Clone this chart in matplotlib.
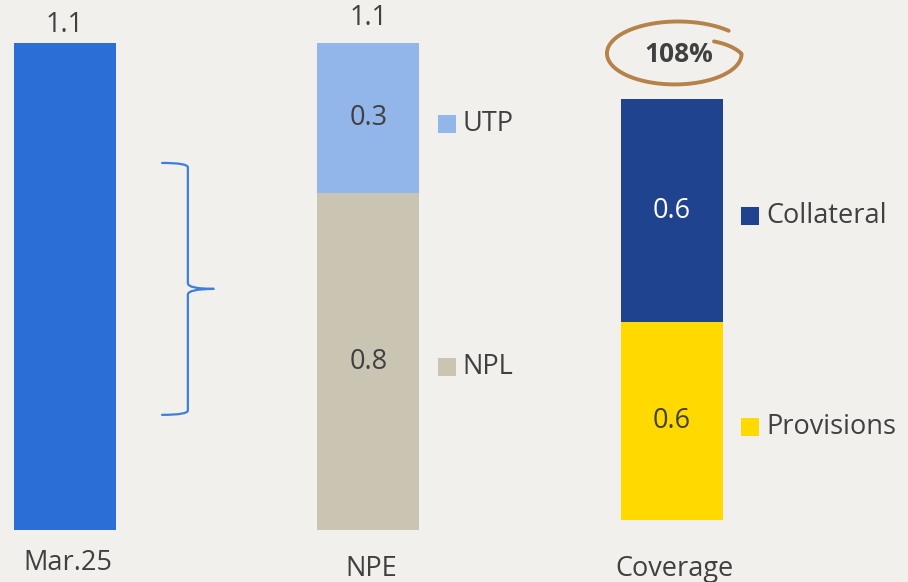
#!/usr/bin/env python3
"""NPE stock vs. coverage: Mar.25 exposure, NPE split and coverage split."""

import numpy as np
import matplotlib
matplotlib.use('Agg')
import matplotlib.pyplot as plt
from matplotlib.path import Path
from matplotlib.patches import PathPatch
from matplotlib.transforms import offset_copy

plt.rcParams.update({
    'font.family': ['Open Sans', 'DejaVu Sans'],
    'font.size': 19.5,
    'text.color': '#404040',
})

# --- data (EUR bn) ---
categories = ['Mar.25', 'NPE', 'Coverage']
exposure = 1.1
npe_parts = ['NPL', 'UTP']
npe_values = [0.76, 0.34]
coverage_parts = ['Provisions', 'Collateral']
coverage_values = [0.56, 0.63]

BG = '#F1F0EC'
TEXT = '#404040'
C_EXPOSURE = '#2A6ED6'
NPE_COLORS = {'NPL': '#CAC4B2', 'UTP': '#92B5EA'}
COV_COLORS = {'Provisions': '#FFD900', 'Collateral': '#1F438E'}
COV_TEXT = {'Provisions': TEXT, 'Collateral': 'white'}
RING = '#B5834A'

BAR_W = 0.336
XLIM = (-0.214, 2.778)


def fmt(v):
    return f'{v:.1f}'


def side_legend(ax, x, y, label, color):
    # legend keys sit a little below the segment middle
    tr = offset_copy(ax.transData, fig=ax.figure, y=-4, units='points')
    ax.scatter([x + 0.258], [y], marker='s', s=155, color=color, lw=0, zorder=3, transform=tr)
    ax.text(x + 0.31, y, label, ha='left', va='center', fontsize=19.5, color=TEXT, transform=tr)


def stacked(ax, x, parts, values, colors, text_colors=None):
    bottom = 0.0
    for name, v in zip(parts, values):
        ax.bar(x, v, bottom=bottom, width=BAR_W, color=colors[name], lw=0, zorder=2)
        mid = bottom + v / 2
        tc = text_colors[name] if text_colors else TEXT
        ax.text(x, mid, fmt(v), ha='center', va='center', color=tc, fontsize=19.5)
        side_legend(ax, x, mid, name, colors[name])
        bottom += v
    return bottom


def draw_brace(ax, x_end, x_spine, x_tip, top, bottom):
    mid = (top + bottom) / 2
    verts = [
        (x_end, top), (x_spine, top), (x_spine, top - 0.01),
        (x_spine, mid + 0.013),
        (x_spine, mid), (x_tip, mid),
        (x_spine, mid), (x_spine, mid - 0.013),
        (x_spine, bottom + 0.01),
        (x_spine, bottom), (x_end, bottom),
    ]
    codes = [Path.MOVETO, Path.CURVE3, Path.CURVE3,
             Path.LINETO,
             Path.CURVE3, Path.CURVE3,
             Path.CURVE3, Path.CURVE3,
             Path.LINETO,
             Path.CURVE3, Path.CURVE3]
    ax.add_patch(PathPatch(Path(verts, codes), fill=False, edgecolor='#3E7FDC',
                           lw=1.6, capstyle='round', zorder=3))


def draw_ring(ax, cx, cy, rx, ry):
    # hand-drawn loop: starts inside at upper right, goes round once, overshoots outward
    th = np.radians(np.linspace(36, -316, 300))
    f = np.linspace(0, 1, th.size)
    r = np.where(f < 0.1, 0.72 + 0.28 * f / 0.1, 1 + 0.12 * ((f - 0.1) / 0.9) ** 2)
    ax.plot(cx + rx * r * np.cos(th), cy + ry * r * np.sin(th),
            color=RING, lw=2.8, solid_capstyle='round', zorder=3)


def main():
    fig = plt.figure(figsize=(9.08, 5.82), dpi=100, facecolor=BG)

    # exposure and NPE share one scale
    ax = fig.add_axes([0, 0, 1, 1])
    ax.set_xlim(*XLIM)
    ax.set_ylim(-0.1175, 1.197)
    ax.axis('off')

    # coverage bar on its own scale
    ax2 = fig.add_axes([0, 0, 1, 1])
    ax2.set_xlim(*XLIM)
    ax2.set_ylim(-0.175, 1.47)
    ax2.axis('off')
    ax2.patch.set_alpha(0)

    ax.bar(0, exposure, width=BAR_W, color=C_EXPOSURE, lw=0, zorder=2)
    ax.annotate(fmt(exposure), (0, exposure), xytext=(0, 13), textcoords='offset points',
                ha='center', va='center', fontsize=19.5)

    npe_total = stacked(ax, 1, npe_parts, npe_values, NPE_COLORS)
    ax.annotate(fmt(npe_total), (1, npe_total), xytext=(0, 18), textcoords='offset points',
                ha='center', va='center', fontsize=19.5)

    cov_total = stacked(ax2, 2, coverage_parts, coverage_values, COV_COLORS, COV_TEXT)
    ratio = cov_total / npe_total
    ax2.text(2.023, cov_total + 0.126, f'{ratio * 100:.0f}%', ha='center', va='center',
             fontsize=19, fontweight='bold', color=TEXT)
    draw_ring(ax2, 2.012, cov_total + 0.127, 0.2175, 0.0848)

    draw_brace(ax, 0.32, 0.405, 0.492, 0.829, 0.26)

    tr = ax.get_xaxis_transform()
    for i, (cat, yb) in enumerate(zip(categories, [0.0206, 0.0103, 0.0103])):
        ax.text(i + 0.01, yb, cat, ha='center', va='baseline', fontsize=19.5,
                color=TEXT, transform=tr)

    fig.savefig('out.png', dpi=100, facecolor=BG)


if __name__ == '__main__':
    main()
